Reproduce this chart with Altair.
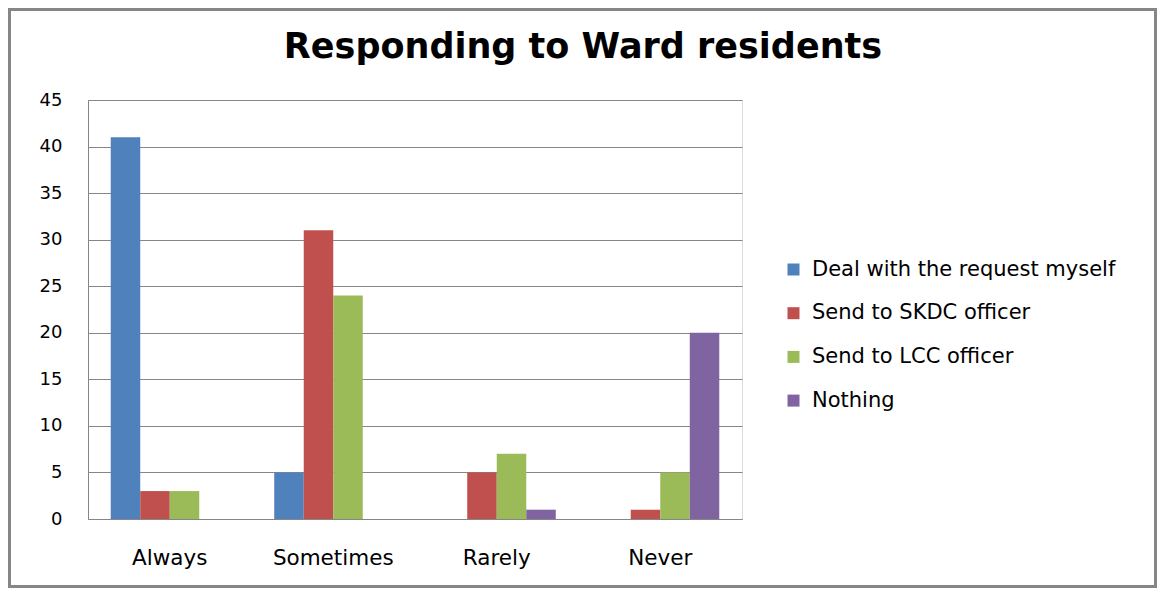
import altair as alt
import pandas as pd

title_text = "Responding to Ward residents"
categories = ["Always", "Sometimes", "Rarely", "Never"]
series = ["Deal with the request myself", "Send to SKDC officer", "Send to LCC officer", "Nothing"]
deal = [41, 5, 0, 0]
skdc = [3, 31, 5, 1]
lcc = [3, 24, 7, 5]
nothing = [0, 0, 1, 20]
colors = ["#4F81BD", "#C0504D", "#9BBB59", "#8064A2"]
y_ticks = [0, 5, 10, 15, 20, 25, 30, 35, 40, 45]

rows = []
for s, vals in zip(series, [deal, skdc, lcc, nothing]):
    for c, v in zip(categories, vals):
        rows.append({"cat": c, "series": s, "value": v})
df = pd.DataFrame(rows)

FONT = "DejaVu Sans"
W, H = 654, 419

bars = alt.Chart(df).mark_bar().encode(
    x=alt.X("cat:N", sort=categories, title=None,
            scale=alt.Scale(paddingInner=0.278, paddingOuter=0.139),
            axis=alt.Axis(labelAngle=0, labelPadding=28, labelFontSize=21.5, ticks=False,
                          domainColor="#868686", labelColor="#000000", labelFont=FONT)),
    xOffset=alt.XOffset("series:N", sort=series, scale=alt.Scale(paddingInner=0, paddingOuter=0)),
    y=alt.Y("value:Q", title=None, scale=alt.Scale(domain=[0, 45], nice=False),
            axis=alt.Axis(values=y_ticks, labelPadding=26, labelFontSize=18, ticks=False,
                          grid=True, gridColor="#868686", domainColor="#868686",
                          labelColor="#000000", labelFont=FONT)),
    color=alt.Color("series:N", sort=series, title=None,
                    scale=alt.Scale(domain=series, range=colors),
                    legend=alt.Legend(orient="none", legendX=695, legendY=159,
                                      symbolType="square", symbolSize=144, symbolStrokeWidth=0,
                                      labelFontSize=21, labelFont=FONT, labelColor="#000000",
                                      labelLimit=0, rowPadding=21.7, labelOffset=8, padding=0)),
)

title = alt.Chart(pd.DataFrame({"t": [title_text]})).mark_text(
    font=FONT, fontSize=35, fontWeight="bold", color="#000000", align="center", baseline="middle"
).encode(text="t:N", x=alt.value(495), y=alt.value(-53))

frame = alt.Chart(pd.DataFrame({"a": [0]})).mark_rect(
    filled=False, stroke="#868686", strokeWidth=3
).encode(
    x=alt.value(-78.5), x2=alt.value(1067.5), y=alt.value(-90.5), y2=alt.value(486.5)
)

chart = alt.layer(bars, title, frame).properties(
    width=W, height=H,
    autosize=alt.AutoSizeParams(type="none"),
    padding={"left": 80, "top": 92, "right": 415, "bottom": 69},
).configure_view(stroke=None).configure(background="white")

chart.save("out.html", embed_options={"renderer": "svg", "actions": False})
